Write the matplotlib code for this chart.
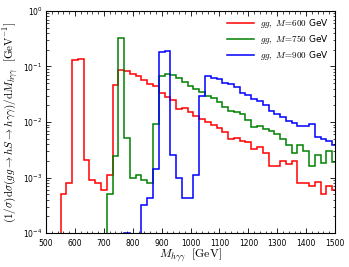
import matplotlib

matplotlib.use("Agg")
import matplotlib.pyplot as plt
import numpy as np
from matplotlib.ticker import MultipleLocator, LogLocator, NullFormatter

# 20 GeV bins; each series is given by its first lower bin edge and the bin contents
bin_width = 20

red_start = 550
red_values = [5e-4, 8e-4, 0.13, 0.135, 2.1e-3, 9.1e-4, 8e-4, 6e-4, 1.1e-3, 0.047,
              0.085, 0.082, 0.073, 0.067, 0.058, 0.049, 0.044, 0.034, 0.028, 0.025,
              0.017, 0.018, 0.015, 0.013, 0.0113, 0.0102, 0.0087, 0.0078, 0.0065, 0.0050,
              0.0052, 0.0046, 0.0044, 0.0033, 0.0035, 0.0028, 0.0016, 0.0016, 0.0020, 0.00176,
              0.0020, 8e-4, 8e-4, 7e-4, 8.2e-4, 5e-4, 7e-4, 6e-4]

green_start = 710
green_values = [5e-4, 2.4e-3, 0.33, 5.1e-3, 1.0e-3, 1.1e-3, 9e-4, 8e-4, 9.2e-3, 0.068,
                0.072, 0.070, 0.063, 0.053, 0.045, 0.040, 0.035, 0.029, 0.027, 0.0225,
                0.019, 0.0160, 0.0152, 0.0140, 0.0110, 0.0080, 0.0086, 0.0075, 0.0070, 0.0062,
                0.0050, 0.0039, 0.0028, 0.0038, 0.0030, 0.00164, 0.0026, 0.0018, 0.0030, 0.0019]

blue_start = 770
blue_values = [1e-4, 1e-6, 1e-6, 3.2e-4, 4.2e-4, 1.4e-3, 0.18, 0.19, 2.5e-3, 1.0e-3,
               4.2e-4, 4.2e-4, 1.1e-3, 0.030, 0.068, 0.063, 0.060, 0.051, 0.048, 0.042,
               0.034, 0.031, 0.026, 0.024, 0.020, 0.016, 0.0139, 0.0121, 0.0105, 0.0098,
               0.0086, 0.0086, 0.0092, 0.0053, 0.0050, 0.0046, 0.0038]

series = [
    (red_start, red_values, "red", r"$gg,\ M\!=\!600$ GeV"),
    (green_start, green_values, "green", r"$gg,\ M\!=\!750$ GeV"),
    (blue_start, blue_values, "blue", r"$gg,\ M\!=\!900$ GeV"),
]

fig = plt.figure(figsize=(3.49, 2.67), dpi=100)
ax = fig.add_axes([0.132, 0.127, 0.828, 0.832])

for start, values, color, label in series:
    edges = start + bin_width * np.arange(len(values) + 1)
    ax.stairs(values, edges, baseline=1e-6, color=color, lw=1.1, label=label)

ax.set_yscale("log")
ax.set_xlim(500, 1500)
ax.set_ylim(1e-4, 1)
ax.xaxis.set_major_locator(MultipleLocator(100))
ax.xaxis.set_minor_locator(MultipleLocator(20))
ax.yaxis.set_minor_locator(LogLocator(base=10, subs=np.arange(2, 10)))
ax.yaxis.set_minor_formatter(NullFormatter())
ax.tick_params(which="both", direction="in", top=True, right=True, labelsize=5.5)
ax.tick_params(axis="x", pad=4)
ax.tick_params(axis="y", pad=2.5)
ax.tick_params(which="major", length=3.5, width=0.6)
ax.tick_params(which="minor", length=1.8, width=0.5)
for sp in ax.spines.values():
    sp.set_linewidth(0.8)

ax.set_xlabel(r"$M_{h\gamma\gamma}\ \ [\mathrm{GeV}]$", fontsize=8.5,
              math_fontfamily="cm", labelpad=-1)
ax.set_ylabel(r"$(1/\sigma)\mathrm{d}\sigma(gg\rightarrow hS\rightarrow h\gamma\gamma)"
              r"/\mathrm{d}M_{h\gamma\gamma}\ \ [\mathrm{GeV}^{-1}]$",
              fontsize=8, math_fontfamily="cm", labelpad=1.5)

leg = ax.legend(loc="upper right", frameon=False, fontsize=6.5, handlelength=3.0,
                handletextpad=0.7, labelspacing=0.3, borderaxespad=0.3)
for t in leg.get_texts():
    t.set_math_fontfamily("cm")

fig.savefig("out.png", dpi=100)
